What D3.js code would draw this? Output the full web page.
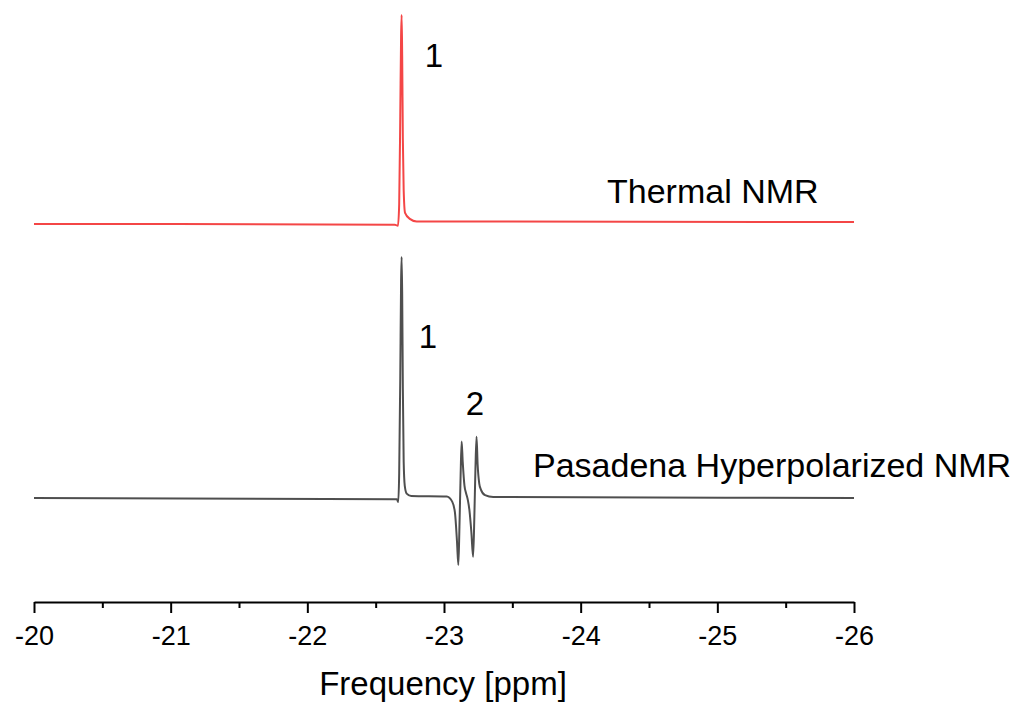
<!DOCTYPE html>
<html>
<head>
<meta charset="utf-8">
<script src="https://cdn.jsdelivr.net/npm/d3@7"></script>
<style>
    html, body { margin: 0; padding: 0; background: #fff; }
    svg { display: block; font-family: Arial, "Liberation Sans", sans-serif; }
</style>
</head>
<body>
<svg id="chart" width="1017" height="704"></svg>
<script>
// chemical shift axis
const xTicks = [-20, -21, -22, -23, -24, -25, -26];
const xMinorTicks = [-20.5, -21.5, -22.5, -23.5, -24.5, -25.5];

// thermal spectrum, [ppm, intensity] (a.u., relative to its own baseline)
const thermalPpm = [-20, -22.64, -22.663, -22.672, -22.680, -22.686, -22.690, -22.694, -22.699, -22.705, -22.715, -22.75, -22.80, -26];
const thermalInt = [0, -0.3, -0.8, 8, 45, 78, 86.7, 70, 35, 14, 4.6, 2.1, 1, 0.8];

// PASADENA hyperpolarized spectrum
const hyperPpm = [-20, -22.655, -22.665, -22.672, -22.680, -22.686, -22.690, -22.694, -22.699, -22.705, -22.713, -22.727, -22.76,
    -23.02, -23.06, -23.08, -23.095, -23.105, -23.113, -23.121, -23.129, -23.137, -23.150, -23.161, -23.175, -23.186, -23.200, -23.213,
    -23.222, -23.230, -23.238, -23.246, -23.258, -23.270, -23.30, -23.36, -26];
const hyperInt = [0, -0.5, -1.7, 10, 50, 90, 100, 85, 45, 15, 5, 1.8, 0.8,
    0.6, -1.5, -6, -18, -27.8, -12, 8, 23.4, 15, 5, 2.1, -1, -5, -14, -24.4,
    -8, 12, 25.4, 14, 6, 3.5, 1.2, 0.4, 0];

// vertical stacking offsets
const thermalOffset = 113.7;
const hyperOffset = 0;

const svg = d3.select("#chart");

const x = d3.scaleLinear().domain([-20, -26]).range([34, 854]);
const y = d3.scaleLinear().domain([-43.15, 206.6]).range([602, 0]);

const line = d3.line()
    .x(d => x(d[0]))
    .y(d => y(d[1]))
    .curve(d3.curveMonotoneX);

const thermal = thermalPpm.map((p, i) => [p, thermalInt[i] + thermalOffset]);
const hyper = hyperPpm.map((p, i) => [p, hyperInt[i] + hyperOffset]);

svg.append("path")
    .datum(thermal)
    .attr("d", line)
    .attr("fill", "none")
    .attr("stroke", "#f44646")
    .attr("stroke-width", 2);

svg.append("path")
    .datum(hyper)
    .attr("d", line)
    .attr("fill", "none")
    .attr("stroke", "#4f4f4f")
    .attr("stroke-width", 2);

// bottom axis
const axis = svg.append("g")
    .attr("transform", "translate(0,602)")
    .call(d3.axisBottom(x)
        .tickValues(xTicks)
        .tickSize(11)
        .tickSizeOuter(0)
        .tickPadding(13)
        .tickFormat(d => String(d)));

axis.select(".domain").attr("stroke", "#000").attr("stroke-width", 2);
axis.selectAll(".tick line").attr("stroke", "#000").attr("stroke-width", 2);
axis.selectAll(".tick text")
    .attr("fill", "#000")
    .style("font-size", "27px")
    .style("font-family", "Arial, 'Liberation Sans', sans-serif");

const minor = svg.append("g")
    .attr("transform", "translate(0,602)")
    .call(d3.axisBottom(x)
        .tickValues(xMinorTicks)
        .tickSize(6)
        .tickSizeOuter(0)
        .tickFormat(""));

minor.select(".domain").remove();
minor.selectAll(".tick line").attr("stroke", "#000").attr("stroke-width", 2);

svg.append("text")
    .attr("x", 443)
    .attr("y", 695)
    .attr("text-anchor", "middle")
    .style("font-size", "33px")
    .text("Frequency [ppm]");

// series labels
svg.append("text")
    .attr("x", 607)
    .attr("y", 203)
    .style("font-size", "34px")
    .text("Thermal NMR");

svg.append("text")
    .attr("x", 533)
    .attr("y", 477)
    .style("font-size", "34px")
    .text("Pasadena Hyperpolarized NMR");

// peak numbers
const peakLabels = [
    { text: "1", ppm: -22.927, baseline: 67 },
    { text: "1", ppm: -22.883, baseline: 348 },
    { text: "2", ppm: -23.227, baseline: 415 }
];

svg.selectAll(".peak-label")
    .data(peakLabels)
    .enter()
    .append("text")
    .attr("class", "peak-label")
    .attr("x", d => x(d.ppm))
    .attr("y", d => d.baseline)
    .attr("text-anchor", "middle")
    .style("font-size", "33px")
    .text(d => d.text);
</script>
</body>
</html>
